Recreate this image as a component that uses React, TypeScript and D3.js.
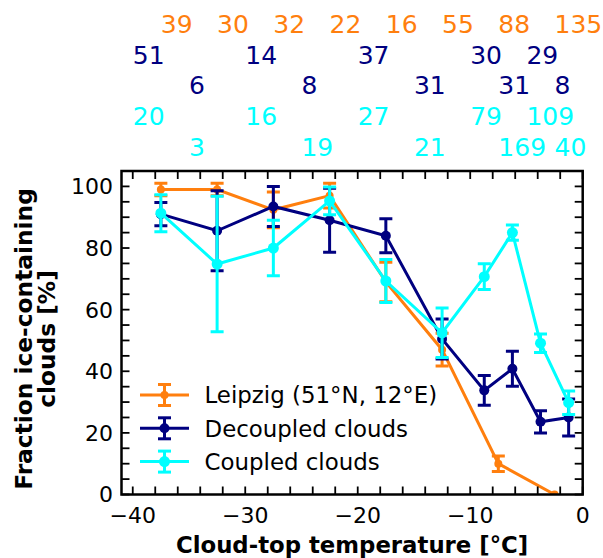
import React from "react";
import * as d3 from "d3";

const W = 603;
const H = 558;

// Leipzig (orange)
const leipzigX = [-37.5, -32.5, -27.5, -22.5, -17.5, -12.5, -7.5, -2.5];
const leipzigY = [99, 99, 92.4, 97, 69, 47, 10, 0];
const leipzigErr = [2, 2, 5.8, 4, 6.4, 5.3, 2.5, 0];
const leipzigCounts = [39, 30, 32, 22, 16, 55, 88, 135];

// Decoupled / coupled (navy / cyan)
const binX = [-37.5, -32.5, -27.5, -22.5, -17.5, -12.5, -8.75, -6.25, -3.75, -1.25];
const binLeftEdges = [-40, -35, -30, -25, -20, -15, -10, -7.5, -5, -2.5];
const decoupledY = [91, 85.6, 93.5, 89, 84, 50.5, 33.8, 40.8, 23.6, 25];
const decoupledErr = [3.8, 13, 6.5, 10.4, 5.5, 6.5, 4.8, 5.7, 3.6, 6];
const decoupledCounts = [51, 6, 14, 8, 37, 31, 30, 31, 29, 8];
const coupledY = [91.3, 74.8, 80, 95.3, 69.3, 52.5, 70.7, 85, 49.1, 29.8];
const coupledErr = [6, 22, 9, 4.5, 7, 8, 4.2, 2.5, 3, 3.8];
const coupledCounts = [20, 3, 16, 19, 27, 21, 79, 169, 109, 40];

const xTickLabels = [-40, -30, -20, -10, 0];
const yTickLabels = [0, 20, 40, 60, 80, 100];
const legendLabels = ["Leipzig (51°N, 12°E)", "Decoupled clouds", "Coupled clouds"];

const ORANGE = "#ff7f0e";
const NAVY = "#000080";
const CYAN = "#00ffff";
const FONT = "DejaVu Sans";

const PL = 121.5, PR = 582.7, PT = 171, PB = 494.5;

export default function App() {
  const x = d3.scaleLinear().domain([-41, 0]).range([PL, PR]);
  const y = d3.scaleLinear().domain([0, 105]).range([PB, PT]);
  const line = d3.line<[number, number]>().x((d) => x(d[0])).y((d) => y(d[1]));

  const series = [
    { xs: leipzigX, ys: leipzigY, es: leipzigErr, color: ORANGE, r: 4 },
    { xs: binX, ys: decoupledY, es: decoupledErr, color: NAVY, r: 5 },
    { xs: binX, ys: coupledY, es: coupledErr, color: CYAN, r: 5.5 },
  ];
  const cap = 6.5;
  const lw = 3;

  const xMinor = d3.range(-40, 0.001, 2);
  const yMinor = d3.range(0, 105.001, 5);
  const tickLen = 8;

  const rowBase = [33, 63.5, 94, 125, 156];

  return (
    <div style={{ position: "fixed", left: 0, top: 0 }}>
      <svg width={W} height={H} style={{ display: "block", background: "#fff" }} fontFamily={FONT}>
        <defs>
          <clipPath id="plotclip">
            <rect x={PL} y={PT} width={PR - PL} height={PB - PT} />
          </clipPath>
        </defs>

        {/* counts above the plot */}
        {leipzigCounts.map((c, i) => (
          <text key={"o" + i} x={x(leipzigX[i])} y={rowBase[0]} fontSize={25} fill={ORANGE}>{c}</text>
        ))}
        {decoupledCounts.map((c, i) => (
          <text key={"n" + i} x={x(binLeftEdges[i])} y={rowBase[1 + (i % 2)]} fontSize={25} fill={NAVY}>{c}</text>
        ))}
        {coupledCounts.map((c, i) => (
          <text key={"c" + i} x={x(binLeftEdges[i])} y={rowBase[3 + (i % 2)]} fontSize={25} fill={CYAN}>{c}</text>
        ))}

        {/* data */}
        <g clipPath="url(#plotclip)">
          {series.map((s, si) => (
            <g key={si}>
              <path
                d={line(s.xs.map((v, i) => [v, s.ys[i]] as [number, number])) || ""}
                fill="none"
                stroke={s.color}
                strokeWidth={lw}
              />
              {s.xs.map((v, i) => (
                s.es[i] > 0 ? (
                  <g key={i} stroke={s.color} strokeWidth={lw}>
                    <line x1={x(v)} x2={x(v)} y1={y(s.ys[i] - s.es[i])} y2={y(s.ys[i] + s.es[i])} />
                    <line x1={x(v) - cap} x2={x(v) + cap} y1={y(s.ys[i] - s.es[i])} y2={y(s.ys[i] - s.es[i])} />
                    <line x1={x(v) - cap} x2={x(v) + cap} y1={y(s.ys[i] + s.es[i])} y2={y(s.ys[i] + s.es[i])} />
                  </g>
                ) : null
              ))}
              {s.xs.map((v, i) => (
                <circle key={"m" + i} cx={x(v)} cy={y(s.ys[i])} r={s.r} fill={s.color} />
              ))}
            </g>
          ))}
        </g>

        {/* ticks */}
        <g stroke="#000" strokeWidth={1.8}>
          {xMinor.map((t) => (
            <g key={"xt" + t}>
              <line x1={x(t)} x2={x(t)} y1={PB} y2={PB - tickLen} />
              <line x1={x(t)} x2={x(t)} y1={PT} y2={PT + tickLen} />
            </g>
          ))}
          {yMinor.map((t) => (
            <g key={"yt" + t}>
              <line x1={PL} x2={PL + tickLen} y1={y(t)} y2={y(t)} />
              <line x1={PR} x2={PR - tickLen} y1={y(t)} y2={y(t)} />
            </g>
          ))}
        </g>
        <rect x={PL} y={PT} width={PR - PL} height={PB - PT} fill="none" stroke="#000" strokeWidth={2.5} />

        {/* tick labels */}
        {xTickLabels.map((t) => (
          <text key={"xl" + t} x={x(t)} y={523} fontSize={22} textAnchor="middle">
            {t < 0 ? "\u2212" + Math.abs(t) : String(t)}
          </text>
        ))}
        {yTickLabels.map((t) => (
          <text key={"yl" + t} x={113} y={y(t)} dy="0.36em" fontSize={22} textAnchor="end">{t}</text>
        ))}

        {/* axis labels */}
        <text x={(PL + PR) / 2} y={552.5} fontSize={22.8} fontWeight="bold" textAnchor="middle">
          Cloud-top temperature [°C]
        </text>
        <text transform="translate(31.5,339) rotate(-90)" fontSize={23.3} fontWeight="bold" textAnchor="middle">
          Fraction ice-containing
        </text>
        <text transform="translate(55,339) rotate(-90)" fontSize={23.3} fontWeight="bold" textAnchor="middle">
          clouds [%]
        </text>

        {/* legend */}
        {series.map((s, i) => {
          const ly = 395 + i * 33.3;
          const cx = 164.5;
          return (
            <g key={"lg" + i}>
              <g stroke={s.color} strokeWidth={lw}>
                <line x1={140} x2={189} y1={ly} y2={ly} />
                <line x1={cx} x2={cx} y1={ly - 10.5} y2={ly + 10.5} />
                <line x1={cx - cap} x2={cx + cap} y1={ly - 10.5} y2={ly - 10.5} />
                <line x1={cx - cap} x2={cx + cap} y1={ly + 10.5} y2={ly + 10.5} />
              </g>
              <circle cx={cx} cy={ly} r={s.r} fill={s.color} />
              <text x={204.5} y={ly} dy="0.36em" fontSize={22.9}>{legendLabels[i]}</text>
            </g>
          );
        })}
      </svg>
    </div>
  );
}
